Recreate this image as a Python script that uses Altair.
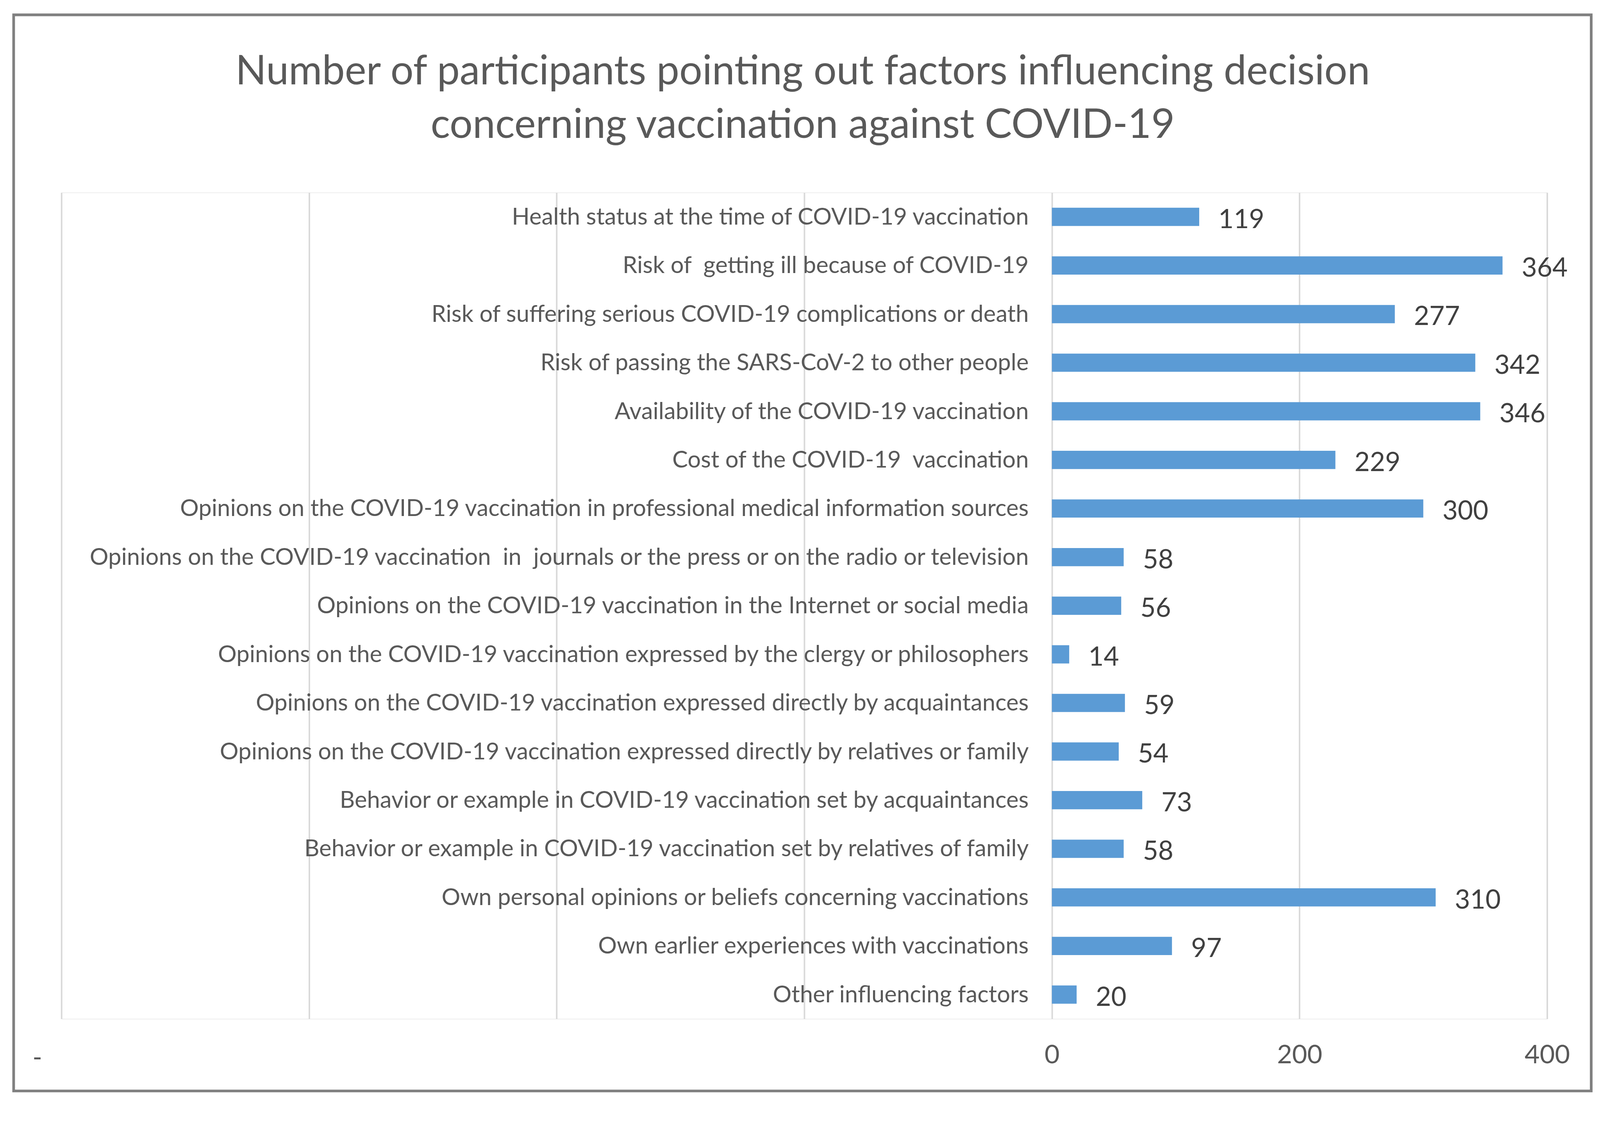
import altair as alt
import pandas as pd

# ---- data ----
categories = [
    "Health status at the time of COVID-19 vaccination",
    "Risk of  getting ill because of COVID-19",
    "Risk of suffering serious COVID-19 complications or death",
    "Risk of passing the SARS-CoV-2 to other people ",
    "Availability of the COVID-19 vaccination",
    "Cost of the COVID-19  vaccination ",
    "Opinions on the COVID-19 vaccination in professional medical information sources ",
    "Opinions on the COVID-19 vaccination  in  journals or the press or on the radio or television",
    "Opinions on the COVID-19 vaccination in the Internet or social media",
    "Opinions on the COVID-19 vaccination expressed by the clergy or philosophers",
    "Opinions on the COVID-19 vaccination expressed directly by acquaintances",
    "Opinions on the COVID-19 vaccination expressed directly by relatives or family",
    "Behavior or example in COVID-19 vaccination set by acquaintances",
    "Behavior or example in COVID-19 vaccination set by relatives of family",
    "Own personal opinions or beliefs concerning vaccinations",
    "Own earlier experiences with vaccinations",
    "Other influencing factors",
]
counts = [119, 364, 277, 342, 346, 229, 300, 58, 56, 14, 59, 54, 73, 58, 310, 97, 20]
x_ticks = [-800, -600, -400, -200, 0, 200, 400]
title_lines = [
    "Number of participants pointing out factors influencing decision",
    "concerning vaccination against COVID-19",
]

# ---- layout / style ----
W = 3880
H = 2158
X_MIN, X_MAX = -800, 400
zero_px = (0 - X_MIN) / (X_MAX - X_MIN) * W

FONT = "Lato"
TEXT = "#595959"
VALUE_TEXT = "#404040"
BAR = "#5B9BD5"
GRID = "#D9D9D9"
FRAME = "#808080"


def keep_spaces(s):
    # SVG collapses repeated / trailing spaces; keep them visible with no-break spaces
    s = s.replace("  ", " \u00a0")
    if s.endswith(" "):
        s = s[:-1] + "\u00a0"
    return s


labels = [keep_spaces(c) for c in categories]
df = pd.DataFrame({"factor": labels, "count": counts})

y_scale = alt.Scale(paddingInner=0.625, paddingOuter=0.3125)
x_scale = alt.Scale(domain=[X_MIN, X_MAX], nice=False, zero=False)

y_axis = alt.Axis(
    title=None, orient="left", offset=-zero_px, domain=False, ticks=False, grid=False,
    labelPadding=61, labelAlign="right", labelBaseline="alphabetic", labelOffset=20,
    labelFont=FONT, labelFontSize=61, labelColor=TEXT, labelLimit=4000,
)
x_axis = alt.Axis(
    title=None, values=x_ticks, domain=False, ticks=False, grid=True,
    gridColor=GRID, gridWidth=4,
    labelExpr="datum.value >= 0 ? datum.label : ''",
    labelFlush=False, labelAlign="center",
    labelPadding=115, labelBaseline="alphabetic",
    labelFont=FONT, labelFontSize=68, labelColor=TEXT,
)

base = alt.Chart(df)

bars = base.mark_bar(color=BAR).encode(
    x=alt.X("count:Q", scale=x_scale, axis=x_axis),
    x2=alt.datum(0),
    y=alt.Y("factor:N", sort=labels, scale=y_scale, axis=y_axis),
)

values = base.mark_text(
    align="left", baseline="alphabetic", dx=50, dy=29,
    font=FONT, fontSize=69, color=VALUE_TEXT,
).encode(
    x=alt.X("count:Q"),
    y=alt.Y("factor:N", sort=labels),
    text=alt.Text("count:Q"),
)

dash = alt.Chart(pd.DataFrame({"t": ["-"]})).mark_text(
    align="center", baseline="middle", dx=-63, font=FONT, fontSize=68, color=TEXT,
).encode(
    x=alt.datum(X_MIN),
    y=alt.value(H + 103),
    text=alt.Text("t:N"),
)

frame = alt.Chart(pd.DataFrame({"f": [1]})).mark_rect(
    fillOpacity=0, stroke=FRAME, strokeWidth=7,
).encode(
    x=alt.value(-124.8), x2=alt.value(W + 115.2),
    y=alt.value(-464.2), y2=alt.value(H + 188.3),
)

chart = alt.layer(frame, bars, values, dash).properties(
    width=W,
    height=H,
    autosize=alt.AutoSizeParams(type="none"),
    padding={"left": 152.3, "top": 466, "right": 130, "bottom": 228},
    title=alt.Title(
        title_lines, font=FONT, fontSize=106, fontWeight="normal", color=TEXT,
        lineHeight=140, baseline="alphabetic", offset=-431, anchor="middle", dx=-4,
    ),
).configure_view(stroke="transparent").configure(background="white")

chart.save("out.html", embed_options={"renderer": "svg", "actions": False})
